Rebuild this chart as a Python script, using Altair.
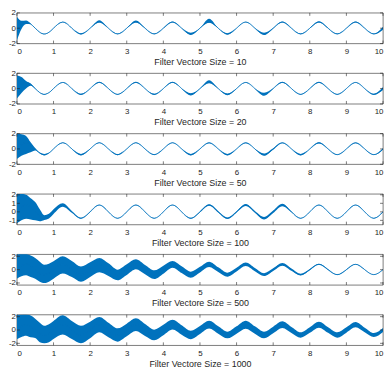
import altair as alt
import pandas as pd

BLUE = "#0072BD"
AX = "#262626"
FONT = "Liberation Sans"
W, H = 370, 31

# key sample positions (first period at eighths, then quarter periods)
x_key = [0, 0.125, 0.25, 0.375, 0.5, 0.625, 0.75, 0.875, 1.0,
         1.25, 1.5, 1.75, 2.0,  2.25, 2.5, 2.75, 3.0,  3.25, 3.5, 3.75, 4.0,
         4.25, 4.5, 4.75, 5.0,  5.25, 5.5, 5.75, 6.0,  6.25, 6.5, 6.75, 7.0,
         7.25, 7.5, 7.75, 8.0,  8.25, 8.5, 8.75, 9.0,  9.25, 9.5, 9.75, 10.0]
# clean sine read at those positions
wave = [0, 0.56, 0.8, 0.56, 0, -0.53, -0.75, -0.53, 0,
        0.8, 0, -0.75, 0,  0.8, 0, -0.75, 0,  0.8, 0, -0.75, 0,
        0.8, 0, -0.75, 0,  0.8, 0, -0.75, 0,  0.8, 0, -0.75, 0,
        0.8, 0, -0.75, 0,  0.8, 0, -0.75, 0,  0.8, 0, -0.75, 0]

x_ticks = [0, 1, 2, 3, 4, 5, 6, 7, 8, 9, 10]
titles = ["Filter Vectore Size = 10", "Filter Vectore Size = 20",
          "Filter Vectore Size = 50", "Filter Vectore Size = 100",
          "Filter Vectore Size = 500", "Filter Vectore Size = 1000"]
y_domains = [[-2, 2], [-2, 2], [-2, 2], [-1.5, 2.1], [-2.3, 2.3], [-2.3, 2.3]]
y_ticks = [[-2, 0, 2], [-2, 0, 2], [-2, 0, 2], [-1, 0, 1, 2], [-2, 0, 2], [-2, 0, 2]]

# noise spread above (up) and below (dn) the clean wave, read per panel
up_10 = [1.5, 0.4, 0.2, 0.05, 0.02, 0.02, 0.04, 0.02, 0.02,
         0.03, 0.02, 0.08, 0.02,  0.25, 0.02, 0.05, 0.02,  0.2, 0.02, 0.05, 0.02,
         0.06, 0.02, 0.15, 0.02,  0.45, 0.02, 0.1, 0.02,  0.05, 0.02, 0.15, 0.03,
         0.08, 0.02, 0.05, 0.02,  0.1, 0.02, 0.05, 0.02,  0.08, 0.02, 0.05, 0.2]
dn_10 = [1.6, 0.65, 0.25, 0.05, 0.02, 0.02, 0.04, 0.02, 0.02,
         0.03, 0.02, 0.08, 0.02,  0.05, 0.02, 0.05, 0.02,  0.05, 0.02, 0.05, 0.02,
         0.04, 0.02, 0.15, 0.02,  0.1, 0.02, 0.1, 0.02,  0.03, 0.02, 0.15, 0.03,
         0.04, 0.02, 0.05, 0.02,  0.04, 0.02, 0.05, 0.02,  0.04, 0.02, 0.05, 0.2]
up_20 = [1.7, 0.95, 0.2, 0.1, 0.03, 0.02, 0.04, 0.02, 0.02,
         0.03, 0.02, 0.08, 0.02,  0.1, 0.02, 0.04, 0.02,  0.1, 0.02, 0.08, 0.02,
         0.08, 0.02, 0.15, 0.02,  0.3, 0.02, 0.12, 0.02,  0.04, 0.02, 0.2, 0.03,
         0.08, 0.02, 0.04, 0.02,  0.1, 0.02, 0.04, 0.02,  0.04, 0.02, 0.08, 0.2]
dn_20 = [1.3, 1.15, 0.8, 0.2, 0.03, 0.02, 0.04, 0.02, 0.02,
         0.03, 0.02, 0.08, 0.02,  0.05, 0.02, 0.04, 0.02,  0.05, 0.02, 0.08, 0.02,
         0.05, 0.02, 0.15, 0.02,  0.1, 0.02, 0.12, 0.02,  0.04, 0.02, 0.2, 0.03,
         0.05, 0.02, 0.04, 0.02,  0.05, 0.02, 0.04, 0.02,  0.04, 0.02, 0.08, 0.2]
up_50 = [2.0, 1.35, 0.9, 0.3, 0.1, 0.05, 0.1, 0.03, 0.02,
         0.03, 0.02, 0.1, 0.02,  0.03, 0.02, 0.08, 0.02,  0.03, 0.02, 0.05, 0.02,
         0.03, 0.02, 0.1, 0.02,  0.05, 0.02, 0.1, 0.02,  0.05, 0.02, 0.15, 0.1,
         0.05, 0.02, 0.1, 0.02,  0.08, 0.02, 0.04, 0.02,  0.05, 0.02, 0.04, 0.1]
dn_50 = [1.3, 1.45, 1.45, 1.0, 0.2, 0.05, 0.1, 0.03, 0.02,
         0.03, 0.02, 0.1, 0.02,  0.03, 0.02, 0.08, 0.02,  0.03, 0.02, 0.05, 0.02,
         0.03, 0.02, 0.1, 0.02,  0.05, 0.02, 0.1, 0.02,  0.05, 0.02, 0.15, 0.1,
         0.05, 0.02, 0.1, 0.02,  0.08, 0.02, 0.04, 0.02,  0.05, 0.02, 0.04, 0.1]
up_100 = [2.1, 1.55, 1.2, 1.05, 1.15, 0.83, 0.35, 0.3, 0.3,
          0.2, 0.1, 0.05, 0.03,  0.03, 0.02, 0.03, 0.02,  0.03, 0.02, 0.03, 0.02,
          0.03, 0.02, 0.05, 0.05,  0.08, 0.08, 0.1, 0.08,  0.12, 0.1, 0.15, 0.15,
          0.15, 0.05, 0.03, 0.02,  0.03, 0.02, 0.03, 0.02,  0.03, 0.02, 0.03, 0.03]
dn_100 = [1.35, 1.55, 1.6, 1.45, 1.0, 0.57, 0.2, 0.25, 0.25,
          0.2, 0.1, 0.05, 0.03,  0.03, 0.02, 0.03, 0.02,  0.03, 0.02, 0.03, 0.02,
          0.03, 0.02, 0.05, 0.05,  0.08, 0.08, 0.1, 0.08,  0.12, 0.1, 0.15, 0.15,
          0.15, 0.05, 0.03, 0.02,  0.03, 0.02, 0.03, 0.02,  0.03, 0.02, 0.03, 0.03]
up_500 = [2.3, 1.8, 1.55, 1.55, 1.76, 1.73, 1.48, 1.43, 1.25,
          1.2, 1.3, 1.22, 1.1,  0.95, 0.95, 0.75, 0.8,  0.75, 0.7, 0.65, 0.6,
          0.5, 0.5, 0.45, 0.42,  0.4, 0.35, 0.3, 0.28,  0.27, 0.25, 0.22, 0.2,
          0.2, 0.17, 0.13, 0.1,  0.08, 0.07, 0.05, 0.04,  0.03, 0.03, 0.03, 0.03]
dn_500 = [1.35, 1.55, 1.63, 1.65, 1.35, 1.27, 1.25, 1.27, 1.35,
          1.37, 1.1, 1.05, 1.1,  1.2, 0.95, 0.85, 0.8,  0.75, 0.7, 0.65, 0.6,
          0.5, 0.5, 0.45, 0.42,  0.4, 0.35, 0.3, 0.28,  0.27, 0.25, 0.22, 0.2,
          0.2, 0.17, 0.13, 0.1,  0.08, 0.07, 0.05, 0.04,  0.03, 0.03, 0.03, 0.03]
up_1000 = [2.3, 1.8, 1.6, 1.6, 1.7, 1.6, 1.38, 1.4, 1.35,
           1.4, 1.35, 1.38, 1.25,  1.15, 1.1, 1.0, 0.95,  0.95, 0.9, 0.8, 0.78,
           0.72, 0.7, 0.62, 0.6,  0.58, 0.55, 0.5, 0.55,  0.6, 0.55, 0.5, 0.5,
           0.5, 0.45, 0.4, 0.42,  0.45, 0.42, 0.4, 0.4,  0.4, 0.35, 0.3, 0.3]
dn_1000 = [1.4, 1.6, 1.65, 1.65, 1.2, 1.3, 1.25, 1.3, 1.35,
           1.48, 1.35, 1.25, 1.25,  1.15, 1.1, 1.0, 0.95,  0.95, 0.9, 0.8, 0.78,
           0.72, 0.7, 0.62, 0.6,  0.58, 0.55, 0.5, 0.55,  0.6, 0.55, 0.5, 0.5,
           0.5, 0.45, 0.4, 0.42,  0.45, 0.42, 0.4, 0.4,  0.4, 0.35, 0.3, 0.3]

ups = [up_10, up_20, up_50, up_100, up_500, up_1000]
dns = [dn_10, dn_20, dn_50, dn_100, dn_500, dn_1000]

LABEL = "datum.value < 0 ? '-' + abs(datum.value) : '' + datum.value"


def panel(title, up, dn, ydom, yt):
    df = pd.DataFrame({"x": x_key, "wave": wave, "up": up, "dn": dn})
    xs = alt.Scale(domain=[0, 10], nice=False, zero=False)
    ys = alt.Scale(domain=ydom, nice=False, zero=False)
    xax = alt.Axis(values=x_ticks, title=title, labelExpr=LABEL)
    yax = alt.Axis(values=yt, title=None, labelExpr=LABEL)
    base = alt.Chart(df)
    band = base.transform_calculate(
        hi="datum.wave + datum.up", lo="datum.wave - datum.dn"
    ).mark_area(interpolate="monotone", color=BLUE, clip=True).encode(
        x=alt.X("x:Q", scale=xs, axis=xax),
        y=alt.Y("hi:Q", scale=ys, axis=yax),
        y2="lo:Q",
    )
    line = base.mark_line(interpolate="natural", color=BLUE, strokeWidth=0.85,
                          clip=True).encode(
        x=alt.X("x:Q", scale=xs, axis=xax),
        y=alt.Y("wave:Q", scale=ys, axis=yax),
    )
    tx = alt.Chart(pd.DataFrame({"t": x_ticks}))
    ty = alt.Chart(pd.DataFrame({"t": yt}))
    rule = dict(color=AX, strokeWidth=0.6)
    top_t = tx.mark_rule(**rule).encode(x=alt.X("t:Q", scale=xs, axis=xax),
                                        y=alt.value(0), y2=alt.value(3))
    bot_t = tx.mark_rule(**rule).encode(x=alt.X("t:Q", scale=xs, axis=xax),
                                        y=alt.value(H - 3), y2=alt.value(H))
    left_t = ty.mark_rule(**rule).encode(y=alt.Y("t:Q", scale=ys, axis=yax),
                                         x=alt.value(0), x2=alt.value(3))
    right_t = ty.mark_rule(**rule).encode(y=alt.Y("t:Q", scale=ys, axis=yax),
                                          x=alt.value(W - 3), x2=alt.value(W))
    return alt.layer(band, line, top_t, bot_t, left_t, right_t).properties(width=W, height=H)


panels = [panel(titles[i], ups[i], dns[i], y_domains[i], y_ticks[i]) for i in range(6)]

chart = alt.vconcat(*panels, spacing=30, bounds="flush").properties(
    padding={"left": 0, "top": -2, "right": 0, "bottom": 0}
).configure_view(
    stroke=AX, strokeWidth=0.6
).configure_axis(
    grid=False, domain=False, ticks=False, tickSize=0,
    labelFont=FONT, labelFontSize=8, labelColor=AX,
    titleFont=FONT, titleFontSize=9, titleFontWeight="normal", titleColor=AX,
).configure_axisX(
    labelPadding=4, titlePadding=2
).configure_axisY(
    labelPadding=1.5
)

chart.save("out.html", embed_options={"renderer": "svg", "actions": False})
